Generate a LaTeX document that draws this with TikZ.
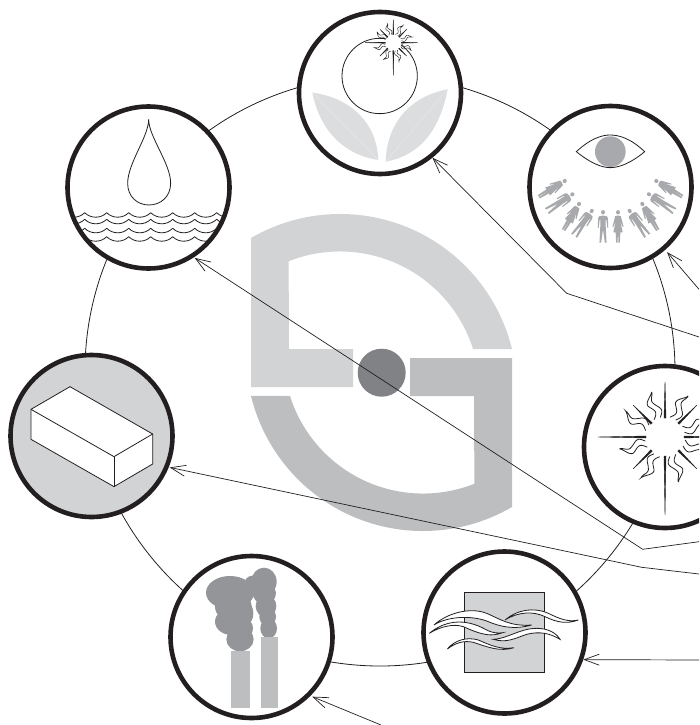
\documentclass[tikz,border=0pt]{standalone}
\usetikzlibrary{arrows.meta}
\definecolor{palegrey}{HTML}{D1D3D4}
\definecolor{leafgrey}{HTML}{DCDDDE}
\definecolor{midgrey}{HTML}{BCBEC0}
\definecolor{peoplegrey}{HTML}{A7A9AC}
\definecolor{smokegrey}{HTML}{939598}
\definecolor{hubgrey}{HTML}{808285}
\definecolor{rimblack}{HTML}{231F20}
\newcommand{\sunburst}[1]{
    \fill[white] (0,0) circle (19pt);
    \foreach \a/\r in {0/58,90/78,180/67,270/55,45/45,135/45,225/45,315/45}
        \filldraw[rotate=\a, rimblack, line width=.4pt] (19,-1) -- (\r,0) -- (19,1) -- cycle;
    \foreach \a in {-110,-64,-150,162,117,70,-20,20}
        \draw[rotate=\a, rimblack, line width=#1, smooth]
            plot[domain=20:47, samples=30] (\x,{2.8*sin(\x*17)+3.2*min(1,(47-\x)/12)})
            -- plot[domain=47:20, samples=30] (\x,{2.8*sin(\x*17)-3.2*min(1,(47-\x)/12)});
}
\newcommand{\figman}{
    \fill[peoplegrey] (0,0) circle (2.3pt);
    \fill[peoplegrey] (0,3.4) -- (4.5,4.2) -- (5.7,6) -- (6.2,16) -- (5,16) -- (4,8)
        -- (3.2,8) -- (3.2,15) -- (4.2,32) -- (2.2,32) -- (0,18) -- (-2.2,32) -- (-4.2,32)
        -- (-3.2,15) -- (-3.2,8) -- (-4,8) -- (-5,16) -- (-6.2,16) -- (-5.7,6) -- (-4.5,4.2) -- cycle;
}
\newcommand{\figwoman}{
    \fill[peoplegrey] (0,0) circle (2.3pt);
    \fill[peoplegrey] (0,3.4) -- (3.2,4) -- (6.5,15) -- (5.5,15.5) -- (2.5,9) -- (5.5,21)
        -- (2.8,21) -- (2.2,32) -- (.4,32) -- (.2,21) -- (-.2,21) -- (-.4,32) -- (-2.2,32)
        -- (-2.8,21) -- (-5.5,21) -- (-2.5,9) -- (-5.5,15.5) -- (-6.5,15) -- (-3.2,4) -- cycle;
}
\begin{document}
\begin{tikzpicture}[
        x=1pt, y=1pt, yscale=-1,
        disc/.style={
            draw=rimblack,
            circle,
            line width=4.6pt,
            inner sep=0pt,
            minimum size=162pt,
            fill=white
        },
        greydisc/.style={disc, fill=palegrey},
        hoop/.style={
            draw=rimblack,
            circle,
            line width=.8pt,
            inner sep=0pt,
            minimum size=590pt
        },
        hub/.style={
            circle,
            inner sep=0pt,
            minimum size=48pt,
            fill=hubgrey
        },
        pointer/.style={
            -{Straight Barb[length=15pt,width=11pt]},
            line width=.7pt,
            draw=rimblack
        },
        outline/.style={draw=rimblack, line width=.8pt},
        ribbon/.style={outline, fill=white},
        leaf/.style={fill=leafgrey},
        vein/.style={draw=white!40!leafgrey, line width=.3pt}
    ]

    \path[use as bounding box, clip] (0,0) rectangle (699,725);

    \node[hoop] (ring) at (380,371) {};

    \foreach \shade/\turn in {palegrey/0,midgrey/180}
        \fill[\shade, rotate around={\turn:(381.5,372.5)}] (251,238)
            arc[start angle=239.8, end angle=346.3, radius=177pt] -- (473,349)
            arc[start angle=342.5, end angle=248.4, radius=139.5pt] -- (289,349)
            -- (353,349) -- (353,387) -- (251,387) -- cycle;
    \node[hub] (centre) at (381.7,372.7) {};

    \node[disc] (flower) at (380,93) {};
    \node[disc] (eye) at (610.5,187) {};
    \node[disc] (sun) at (665,447) {};
    \node[disc] (wind) at (504.5,632.5) {};
    \node[disc] (smoke) at (251.5,637) {};
    \node[greydisc] (brick) at (91.5,436) {};
    \node[disc] (drop) at (148.5,187.5) {};

    \begin{scope}[shift={(295,5)}, scale=.3333]
        \fill[leaf] (52,263) .. controls (150,275) and (245,340) .. (250,465)
            .. controls (150,450) and (75,380) .. (52,263) -- cycle;
        \fill[leaf] (458,253) .. controls (435,370) and (380,450) .. (272,470)
            .. controls (275,360) and (340,275) .. (458,253) -- cycle;
        \draw[vein] (52,263) -- (250,465);
        \draw[vein] (458,253) -- (272,470);
        \draw[outline] (254,213) circle (113pt);
    \end{scope}
    \begin{scope}[shift={(393.3,42.7)}, scale=.42]
        \sunburst{.45pt}
    \end{scope}

    \begin{scope}[shift={(524,100)}, scale=.3333]
        \draw[outline] (157,155) .. controls (200,115) and (235,105) .. (258,105)
            .. controls (285,105) and (320,115) .. (362,155)
            .. controls (320,190) and (285,203) .. (258,203)
            .. controls (235,203) and (200,190) .. (157,155) -- cycle;
        \fill[peoplegrey] (259,155) circle (46pt);
    \end{scope}
    \foreach \hx/\hy/\r in {572.3/194.3/56.5,591.7/211/35.5,603/212.3/0,629.7/211/-35.5,649/194.3/-56.5} {
        \begin{scope}[shift={(\hx,\hy)}, rotate=\r, xscale=.85, yscale=.95]
            \figman
        \end{scope}
    }
    \foreach \hx/\hy/\r in {564.7/181/58.6,579/204/30.6,618/212.3/0,642.3/204/-30.6,656.3/181/-59} {
        \begin{scope}[shift={(\hx,\hy)}, rotate=\r, xscale=.85, yscale=.95]
            \figwoman
        \end{scope}
    }

    \begin{scope}[shift={(665,437)}]
        \sunburst{.8pt}
    \end{scope}

    \begin{scope}[shift={(420,545)}, scale=.3333]
        \filldraw[fill=palegrey, draw=rimblack, line width=.8pt] (132,142) rectangle (373,383);
        \draw[ribbon] (28,265) .. controls (70,230) and (130,215) .. (200,255) .. controls (220,265) and (235,265) .. (248,263)
            .. controls (215,275) and (190,272) .. (130,245) .. controls (100,235) and (60,245) .. (28,265) -- cycle;
        \draw[ribbon] (42,240) .. controls (80,205) and (150,185) .. (200,205) .. controls (240,222) and (270,245) .. (335,240)
            .. controls (280,255) and (240,245) .. (200,228) .. controls (150,210) and (80,215) .. (42,240) -- cycle;
        \draw[ribbon] (255,225) .. controls (290,195) and (340,185) .. (385,205) .. controls (420,222) and (445,232) .. (475,225)
            .. controls (440,238) and (410,232) .. (375,215) .. controls (340,198) and (295,200) .. (255,225) -- cycle;
        \draw[ribbon] (220,283) .. controls (260,282) and (300,250) .. (350,250) .. controls (385,250) and (410,265) .. (420,283)
            .. controls (390,265) and (360,258) .. (320,268) .. controls (285,280) and (260,295) .. (220,283) -- cycle;
        \draw[ribbon] (82,312) .. controls (105,285) and (140,275) .. (175,285) .. controls (210,300) and (240,315) .. (282,308)
            .. controls (240,322) and (200,305) .. (160,292) .. controls (130,285) and (105,295) .. (82,312) -- cycle;
    \end{scope}

    \begin{scope}[shift={(165,550)}, scale=.3333]
        \fill[smokegrey] (195,128) ellipse (72pt and 50pt);
        \fill[smokegrey] (205,170) ellipse (55pt and 45pt);
        \fill[smokegrey] (200,215) ellipse (50pt and 40pt);
        \fill[smokegrey] (225,268) ellipse (41pt and 36pt);
        \fill[smokegrey] (235,190) ellipse (30pt and 40pt);
        \fill[smokegrey] (240,235) ellipse (24pt and 28pt);
        \fill[smokegrey] (297,95) ellipse (38pt and 42pt);
        \fill[smokegrey] (262,105) ellipse (25pt and 28pt);
        \fill[smokegrey] (298,130) ellipse (35pt and 32pt);
        \fill[smokegrey] (303,168) ellipse (31pt and 34pt);
        \fill[smokegrey] (308,200) ellipse (25pt and 28pt);
        \fill[smokegrey] (311,235) ellipse (25pt and 30pt);
        \fill[midgrey] (198,303) rectangle (255,473);
        \fill[midgrey] (288,262) rectangle (339,473);
    \end{scope}

    \begin{scope}[shift={(5,350)}, scale=.3333]
        \filldraw[ribbon] (78,178) -- (195,110) -- (443,252) -- (443,342) -- (327,410) -- (78,268) -- cycle;
        \draw[outline] (78,178) -- (327,320) -- (443,252);
        \draw[outline] (327,320) -- (327,410);
    \end{scope}

    \begin{scope}[shift={(60,100)}, scale=.3333]
        \draw[outline] (266,58) .. controls (266,110) and (203,190) .. (203,250)
            .. controls (203,290) and (232,315) .. (267,315)
            .. controls (302,315) and (332,290) .. (332,250)
            .. controls (332,190) and (266,110) .. (266,58) -- cycle;
    \end{scope}
    \begin{scope}
        \clip (drop.center) circle (79pt);
        \foreach \yw in {212.7,219.3,228.3,236.7}
            \foreach \k in {0,...,8}
                \draw[outline, shift={({62.7+22*\k},\yw)}] (0,0) .. controls (6,6) and (16,6) .. (22,0);
    \end{scope}

    \coordinate (flowerfeed) at (699,337);
    \coordinate (flowerbend) at (566.7,293.3);
    \coordinate (eyefeed) at (699,289.3);
    \coordinate (dropfeed) at (699,541.7);
    \coordinate (dropbend) at (642.7,549.3);
    \coordinate (brickfeed) at (699,574);
    \coordinate (brickbend) at (641.7,567.3);
    \coordinate (windfeed) at (699,660);
    \coordinate (smokefeed) at (381,725);

    \draw[pointer] (flowerfeed) -- (flowerbend) -- (flower.-51);
    \draw[pointer, shorten >=3pt] (eyefeed) -- (eye.-49);
    \draw[pointer, shorten >=1pt] (dropfeed) -- (dropbend) -- (drop.-57);
    \draw[pointer, shorten >=1pt] (brickfeed) -- (brickbend) -- (brick.-22);
    \draw[pointer] (windfeed) -- (wind.-19.2);
    \draw[pointer, shorten >=2pt] (smokefeed) -- (smoke.-45.5);

\end{tikzpicture}
\end{document}
